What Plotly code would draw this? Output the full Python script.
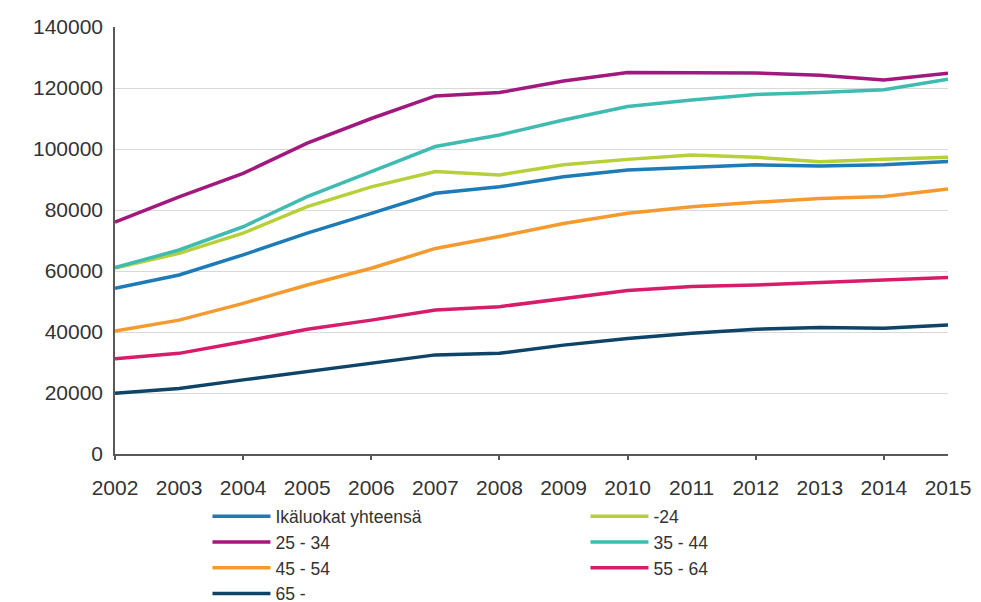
import plotly.graph_objects as go

years = list(range(2002, 2016))

series_names = ["Ikäluokat yhteensä", "-24", "25 - 34", "35 - 44", "45 - 54", "55 - 64", "65 -"]

total = [54300, 58700, 65300, 72400, 78900, 85500, 87600, 90900, 93100, 93900, 94800, 94400, 94800, 95900]
age_24 = [61000, 65800, 72400, 81100, 87600, 92600, 91500, 94800, 96600, 98000, 97300, 95800, 96600, 97300]
age_25_34 = [76000, 84300, 92000, 101900, 110000, 117400, 118500, 122300, 125100, 125000, 124900, 124200, 122600, 124800]
age_35_44 = [61100, 66900, 74500, 84400, 92600, 100800, 104600, 109500, 113900, 116100, 117900, 118500, 119400, 122900]
age_45_54 = [40300, 43900, 49400, 55400, 60900, 67400, 71300, 75600, 78900, 81100, 82500, 83800, 84400, 86900]
age_55_64 = [31200, 33000, 36800, 40900, 43900, 47200, 48300, 51000, 53600, 54900, 55400, 56200, 57100, 57900]
age_65 = [19900, 21500, 24300, 27000, 29900, 32500, 33000, 35700, 37900, 39600, 40900, 41500, 41200, 42300]

series_values = [total, age_24, age_25_34, age_35_44, age_45_54, age_55_64, age_65]
colors = ["#1d7bb8", "#b8cf3a", "#a1197f", "#3fbbb2", "#f59a2e", "#d61c6a", "#0e4468"]

y_ticks = [0, 20000, 40000, 60000, 80000, 100000, 120000, 140000]
x_minor_ticks = [2002, 2004, 2006, 2008, 2010, 2012, 2014]

fig = go.Figure()
for name, vals, col in zip(series_names, series_values, colors):
    fig.add_trace(go.Scatter(x=years, y=vals, name=name, mode="lines",
                             line=dict(color=col, width=3.5)))

# invisible trace on second axis to carry tick marks every two years
fig.add_trace(go.Scatter(x=years, y=total, xaxis="x2", mode="lines",
                         line=dict(width=0), showlegend=False, hoverinfo="skip", opacity=0))

font_family = "Liberation Sans, Arial, sans-serif"
fig.update_layout(
    width=981, height=602,
    margin=dict(l=115, r=33, t=27, b=148, autoexpand=False),
    paper_bgcolor="white", plot_bgcolor="white",
    font=dict(family=font_family, size=21, color="#333333"),
    xaxis=dict(range=[2002, 2015], tickmode="array", tickvals=years,
               ticktext=[str(y) for y in years], showgrid=False,
               showline=True, linecolor="#595959", linewidth=1.5,
               ticks="", zeroline=False, ticklabelstandoff=14,
               tickfont=dict(size=21, color="#333333")),
    xaxis2=dict(range=[2002, 2015], overlaying="x", anchor="y", side="bottom",
                tickmode="array", tickvals=x_minor_ticks, ticks="outside",
                ticklen=5, tickwidth=1.5, tickcolor="#595959",
                showticklabels=False, showgrid=False, showline=False, zeroline=False),
    yaxis=dict(range=[0, 140000], tickmode="array", tickvals=y_ticks,
               ticktext=[str(v) for v in y_ticks],
               showgrid=True, gridcolor="#d9d9d9", gridwidth=1,
               showline=True, linecolor="#595959", linewidth=1.5,
               zeroline=False, ticks="", ticklen=0, ticklabelstandoff=6,
               tickfont=dict(size=21, color="#333333")),
    legend=dict(orientation="h", x=0.111, xanchor="left", y=-0.104, yanchor="top",
                entrywidth=305, entrywidthmode="pixels", itemwidth=58,
                font=dict(size=17.5, color="#333333"), tracegroupgap=0,
                bgcolor="rgba(0,0,0,0)"),
    showlegend=True,
)

fig.write_html("out.html")
